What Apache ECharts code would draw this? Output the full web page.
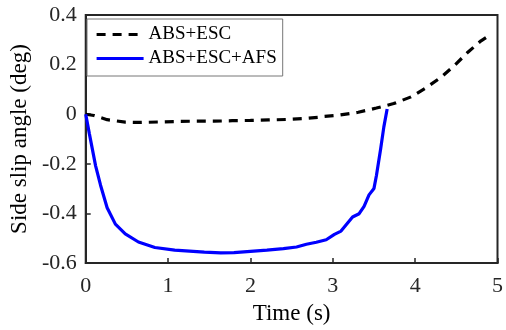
<!DOCTYPE html>
<html>
<head>
<meta charset="utf-8">
<script src="https://cdn.jsdelivr.net/npm/echarts@6/dist/echarts.min.js"></script>
<style>html,body{margin:0;padding:0;background:#fff}#c{width:506px;height:330px}</style>
</head>
<body>
<div id="c"></div>
<script>
const seriesNames = ['ABS+ESC', 'ABS+ESC+AFS'];
const xTicks = [0, 1, 2, 3, 4, 5];
const yTicks = [-0.6, -0.4, -0.2, 0, 0.2, 0.4];

const absEscT = [0, 0.1, 0.26, 0.48, 0.68, 0.9, 1.12, 1.34, 1.56, 1.78, 2.0, 2.22, 2.45, 2.66, 2.84, 2.88, 3.09, 3.31, 3.53, 3.74, 3.95, 4.13, 4.31, 4.47, 4.64, 4.8, 4.86];
const absEscV = [0, -0.005, -0.022, -0.032, -0.033, -0.031, -0.029, -0.028, -0.028, -0.026, -0.025, -0.023, -0.021, -0.017, -0.012, -0.009, -0.003, 0.008, 0.025, 0.043, 0.07, 0.106, 0.148, 0.194, 0.25, 0.296, 0.309];

const afsT = [0, 0.044, 0.12, 0.18, 0.26, 0.36, 0.48, 0.64, 0.84, 1.08, 1.44, 1.64, 1.8, 2.0, 2.2, 2.4, 2.56, 2.68, 2.8, 2.92, 3.02, 3.1, 3.24, 3.32, 3.38, 3.44, 3.5, 3.53, 3.58, 3.62, 3.66];
const afsV = [0, -0.078, -0.208, -0.286, -0.377, -0.443, -0.482, -0.515, -0.537, -0.548, -0.556, -0.559, -0.558, -0.553, -0.548, -0.542, -0.535, -0.524, -0.516, -0.506, -0.484, -0.471, -0.414, -0.401, -0.371, -0.325, -0.299, -0.247, -0.142, -0.051, 0.021];

const pair = (t, v) => t.map((x, i) => [x, v[i]]);
const FAMILY = 'Times New Roman';
const AXIS_COLOR = '#262626';

const chart = echarts.init(document.getElementById('c'));
chart.setOption({
  grid: {left: 83, right: 6, top: 15, bottom: 60,
    show: true, borderColor: AXIS_COLOR, borderWidth: 2, backgroundColor: 'transparent'},
  legend: {
    left: 87, top: 19,
    orient: 'vertical',
    data: seriesNames,
    itemWidth: 47, itemHeight: 12, itemGap: 5,
    padding: [6, 6, 8, 8],
    borderColor: '#777', borderWidth: 1, backgroundColor: '#fff',
    itemStyle: {opacity: 0},
    lineStyle: {width: 3.2},
    textStyle: {fontFamily: FAMILY, fontSize: 19, color: '#000'}
  },
  xAxis: {
    type: 'value', min: xTicks[0], max: xTicks[xTicks.length - 1], interval: xTicks[1] - xTicks[0],
    name: 'Time (s)', nameLocation: 'middle', nameGap: 34,
    nameTextStyle: {fontFamily: FAMILY, fontSize: 23, color: '#000'},
    axisLine: {show: true, onZero: false, lineStyle: {color: AXIS_COLOR, width: 2}},
    axisTick: {show: true, inside: true, length: 5, lineStyle: {color: AXIS_COLOR, width: 1.5}},
    splitLine: {show: false},
    axisLabel: {fontFamily: FAMILY, fontSize: 22, color: AXIS_COLOR, margin: 12}
  },
  yAxis: {
    type: 'value', min: yTicks[0], max: yTicks[yTicks.length - 1], interval: 0.2,
    name: 'Side slip angle (deg)', nameLocation: 'middle', nameGap: 49,
    nameTextStyle: {fontFamily: FAMILY, fontSize: 23, color: '#000'},
    axisLine: {show: true, onZero: false, lineStyle: {color: AXIS_COLOR, width: 2}},
    axisTick: {show: true, inside: true, length: 5, lineStyle: {color: AXIS_COLOR, width: 1.5}},
    splitLine: {show: false},
    axisLabel: {fontFamily: FAMILY, fontSize: 22, color: AXIS_COLOR, margin: 9}
  },
  series: [
    {
      name: seriesNames[0], type: 'line',
      data: pair(absEscT, absEscV), symbol: 'none', smooth: false,
      lineStyle: {color: '#000', width: 3.2, type: [9, 7]},
      itemStyle: {color: '#000'}
    },
    {
      name: seriesNames[1], type: 'line',
      data: pair(afsT, afsV), symbol: 'none', smooth: false,
      lineStyle: {color: '#0000ff', width: 3.2},
      itemStyle: {color: '#0000ff'}
    }
  ]
});
</script>
</body>
</html>
